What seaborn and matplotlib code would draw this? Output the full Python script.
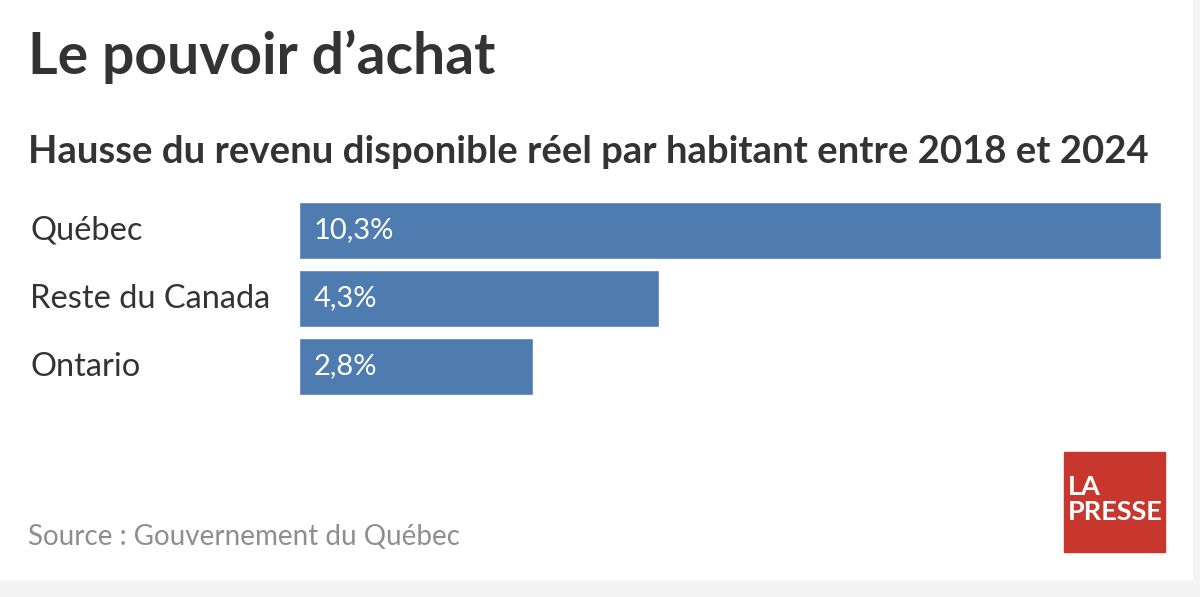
import matplotlib
matplotlib.use("Agg")
import matplotlib.pyplot as plt
import matplotlib.transforms as mtransforms
from matplotlib.patches import Rectangle
import seaborn as sns
import pandas as pd

title = "Le pouvoir d\u2019achat"
subtitle = "Hausse du revenu disponible réel par habitant entre 2018 et 2024"
source = "Source : Gouvernement du Québec"

regions = ["Québec", "Reste du Canada", "Ontario"]
hausse = [10.3, 4.3, 2.8]
labels = ["10,3%", "4,3%", "2,8%"]

df = pd.DataFrame({"region": regions, "hausse": hausse})

sns.set_theme(style="white")
plt.rcParams["font.family"] = ["Lato", "DejaVu Sans"]

W, H = 1200, 597
fig = plt.figure(figsize=(12, 5.97), dpi=100)
fig.patch.set_facecolor("white")

# gray strip right and bottom
fig.add_artist(Rectangle((1193 / W, 0), 1, 1, transform=fig.transFigure, color="#f4f4f4", zorder=0))
fig.add_artist(Rectangle((0, 0), 1, 1 - 581 / H, transform=fig.transFigure, color="#f4f4f4", zorder=0))

ax = fig.add_axes([299 / W, 1 - 400.5 / H, 862 / W, 204 / H])
ax.set_facecolor("none")
sns.barplot(data=df, x="hausse", y="region", orient="h", color="#4e7bb0",
            saturation=1, width=0.84, ax=ax)
ax.set_xlim(0, 10.3)
ax.set_ylim(2.5, -0.5)
ax.set_xlabel("")
ax.set_ylabel("")
ax.set_xticks([])
ax.set_yticks([])
for s in ax.spines.values():
    s.set_visible(False)

trans = mtransforms.blended_transform_factory(fig.transFigure, ax.transData)
for i, (r, lab) in enumerate(zip(regions, labels)):
    ax.text(30 / W, i, r, transform=trans, ha="left", va="center",
            fontsize=23.5, color="#333333")
    ax.text(0.18, i, lab, ha="left", va="center", fontsize=21, color="white")

fig.text(28 / W, 1 - 74 / H, title, fontsize=41, fontweight="bold",
         color="#333333", ha="left", va="baseline")
fig.text(28 / W, 1 - 163 / H, subtitle, fontsize=27.5, fontweight="bold",
         color="#333333", ha="left", va="baseline")
fig.text(28 / W, 1 - 545 / H, source, fontsize=20, fontweight="normal",
         color="#8e8e8e", ha="left", va="baseline")

# logo
fig.add_artist(Rectangle((1064 / W, 1 - 552 / H), 101 / W, 100 / H,
                         transform=fig.transFigure, color="#c8372d", zorder=2))
fig.text(1068 / W, 1 - 495 / H, "LA", fontsize=19.5, fontweight="bold",
         color="white", ha="left", va="baseline", zorder=3)
fig.text(1068 / W, 1 - 520 / H, "PRESSE", fontsize=19.5, fontweight="bold",
         color="white", ha="left", va="baseline", zorder=3)

fig.savefig("out.png", dpi=100, facecolor=fig.get_facecolor())
